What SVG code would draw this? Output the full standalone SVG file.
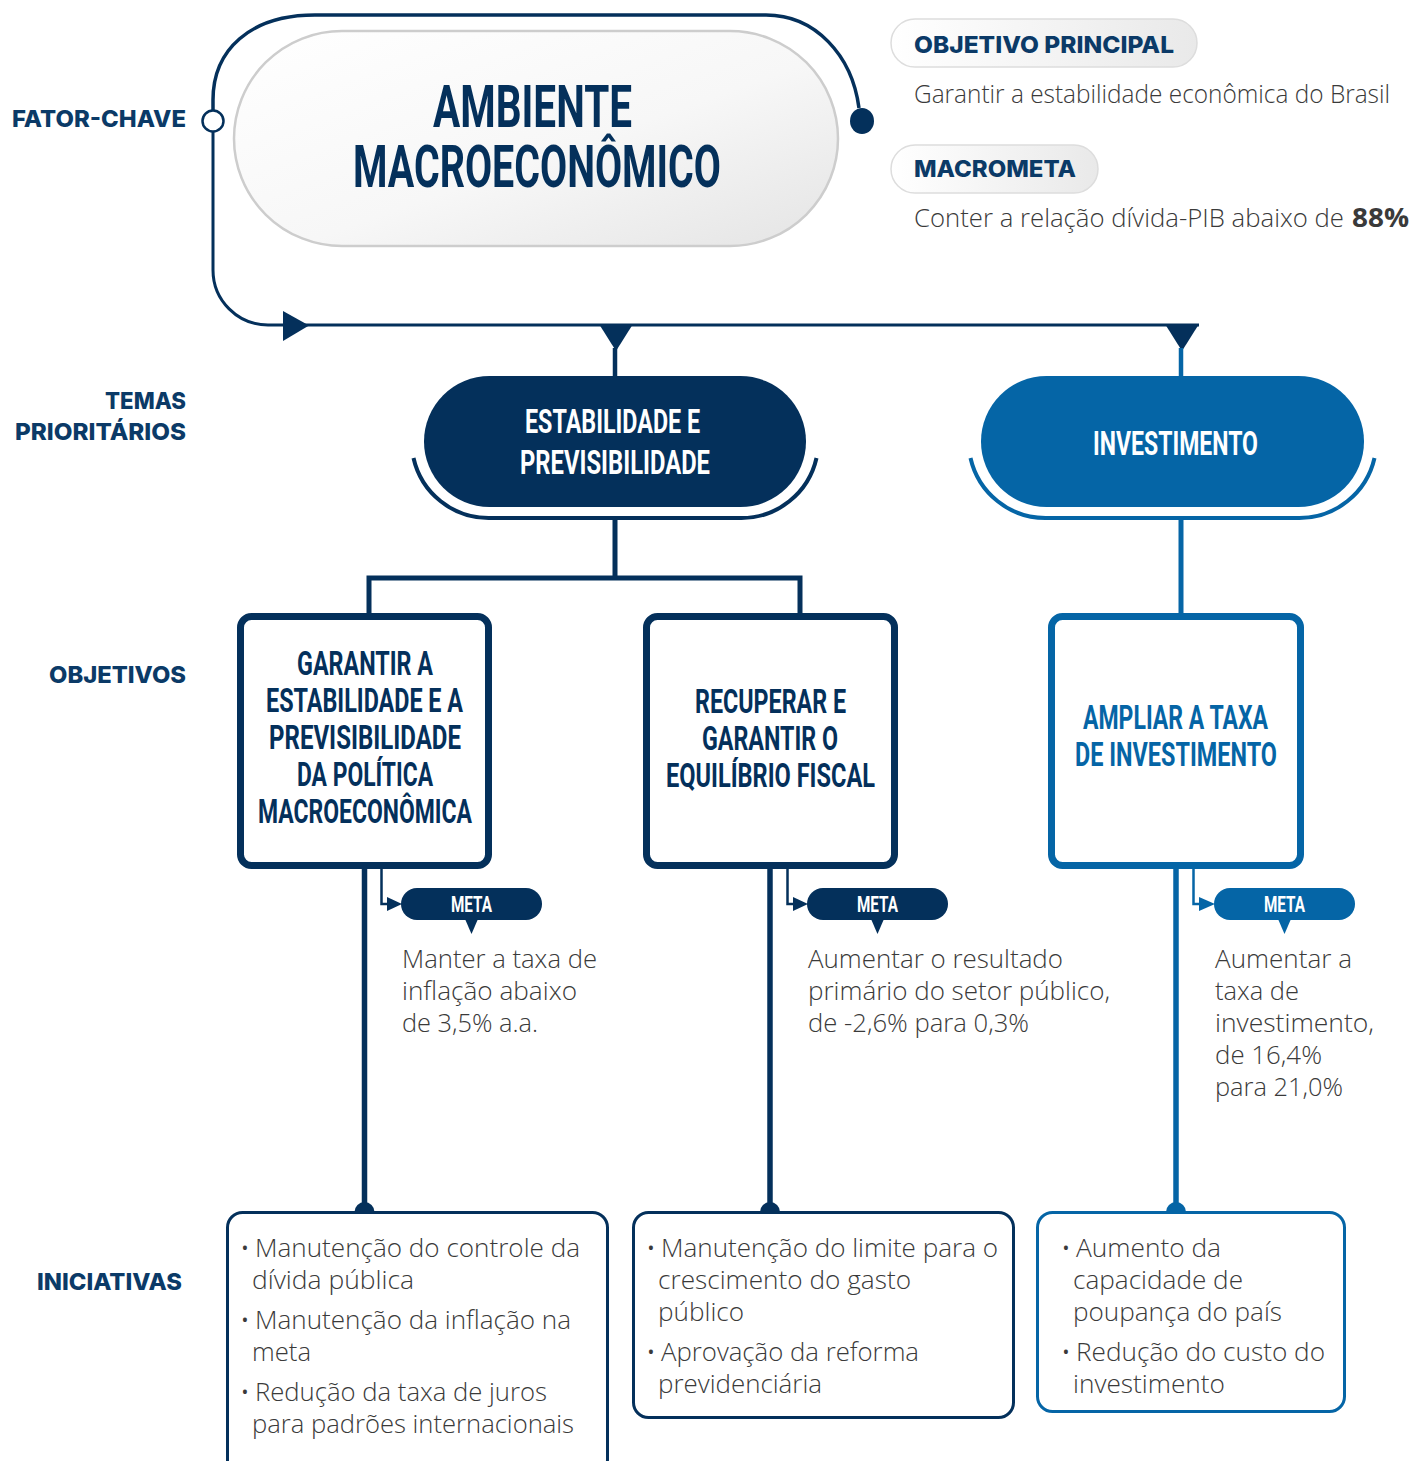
<svg xmlns="http://www.w3.org/2000/svg" width="1413" height="1461" viewBox="0 0 1413 1461">
<defs>
<linearGradient id="gPill" x1="0" y1="0" x2="1" y2="1">
<stop offset="0" stop-color="#ffffff"/>
<stop offset="0.55" stop-color="#f7f7f7"/>
<stop offset="1" stop-color="#e4e4e4"/>
</linearGradient>
<linearGradient id="gTag" x1="0" y1="0" x2="1" y2="0">
<stop offset="0" stop-color="#ffffff"/>
<stop offset="1" stop-color="#e9e9e9"/>
</linearGradient>
<style>
.cond{font-family:Roboto,"Liberation Sans",sans-serif;font-weight:700}
.lbl{font-family:Inter,"Noto Sans","Liberation Sans",sans-serif;font-weight:800;fill:#0B3A67;font-size:23.5px}
.body{font-family:"Open Sans","Noto Sans","Liberation Sans",sans-serif;font-weight:300;fill:#3a3a3a;font-size:26px}
.bold{font-weight:700}
.navyS{stroke:#04305B;fill:none}
.blueS{stroke:#0565A6;fill:none}
.navyF{fill:#04305B}
.blueF{fill:#0565A6}
.white{fill:#ffffff}
.meta{font-size:22px}
</style>
</defs>

<!-- side labels -->
<g id="labels">
<text class="lbl" x="12" y="127" textLength="174" lengthAdjust="spacingAndGlyphs">FATOR-CHAVE</text>
<text class="lbl" x="105" y="409" textLength="81" lengthAdjust="spacingAndGlyphs">TEMAS</text>
<text class="lbl" x="15" y="440" textLength="171" lengthAdjust="spacingAndGlyphs">PRIORITÁRIOS</text>
<text class="lbl" x="49" y="683" textLength="137" lengthAdjust="spacingAndGlyphs">OBJETIVOS</text>
<text class="lbl" x="37" y="1290" textLength="145" lengthAdjust="spacingAndGlyphs">INICIATIVAS</text>
</g>

<!-- connectors -->
<g id="connectors">
<path class="navyS" stroke-width="3.5" d="M213,110 V100 C213,50 250,15 315,15 H766 C815,15 852,55 859,108"/>
<path class="navyS" stroke-width="3" d="M213,132 V270 A55,55 0 0 0 268,325 H1199"/>
<polygon class="navyF" points="283,311 309,325.5 283,341"/>
<polygon class="navyF" points="599,324 633,324 616,351"/>
<polygon class="navyF" points="1165,324 1199,324 1182,351"/>
<line class="navyS" stroke-width="4.5" x1="615" y1="348" x2="615" y2="377"/>
<line class="blueS" stroke-width="4.5" x1="1181" y1="348" x2="1181" y2="377"/>
<!-- under arcs of theme pills -->
<path class="navyS" stroke-width="4" d="M413.5,458 A77,77 0 0 0 489,518 H741 A77,77 0 0 0 816.5,458"/>
<path class="blueS" stroke-width="4" d="M970.5,458 A77,77 0 0 0 1046,518 H1299 A77,77 0 0 0 1374.5,458"/>
<!-- theme to objectives -->
<path class="navyS" stroke-width="5" d="M615,518 V578 M369,615 V578 H800 V615"/>
<line class="blueS" stroke-width="5" x1="1181" y1="518" x2="1181" y2="615"/>
<!-- objectives to initiatives -->
<line class="navyS" stroke-width="5.5" x1="364.5" y1="868" x2="364.5" y2="1212"/>
<line class="navyS" stroke-width="5.5" x1="770" y1="868" x2="770" y2="1212"/>
<line class="blueS" stroke-width="5.5" x1="1176" y1="868" x2="1176" y2="1212"/>
<path class="navyF" d="M354.5,1212 A10,10 0 0 1 374.5,1212 Z"/>
<path class="navyF" d="M760,1212 A10,10 0 0 1 780,1212 Z"/>
<path class="blueF" d="M1166,1212 A10,10 0 0 1 1186,1212 Z"/>
<!-- meta connectors -->
<path class="navyS" stroke-width="2.5" d="M381.5,868 V904 H390"/>
<polygon class="navyF" points="387,897 402,904 387,911"/>
<path class="navyS" stroke-width="2.5" d="M787.5,868 V904 H796"/>
<polygon class="navyF" points="793,897 808,904 793,911"/>
<path class="blueS" stroke-width="2.5" d="M1193.5,868 V904 H1202"/>
<polygon class="blueF" points="1199,897 1215,904 1199,911"/>
</g>

<!-- key factor -->
<g id="fator-chave">
<circle cx="213" cy="121" r="10.5" fill="#ffffff" stroke="#04305B" stroke-width="2.5"/>
<ellipse cx="862" cy="121" rx="12" ry="13" class="navyF"/>
<rect x="234" y="31" width="604" height="215" rx="108" ry="108" fill="url(#gPill)" stroke="#cdcdcd" stroke-width="2.5"/>
<text class="cond navyF" x="433" y="127" font-size="60" textLength="199" lengthAdjust="spacingAndGlyphs">AMBIENTE</text>
<text class="cond navyF" x="353" y="187" font-size="60" textLength="368" lengthAdjust="spacingAndGlyphs">MACROECONÔMICO</text>
</g>

<g id="objetivo-principal">
<rect x="891" y="19" width="306" height="48" rx="24" fill="url(#gTag)" stroke="#dddddd" stroke-width="1.5"/>
<text class="lbl" x="914" y="53" font-size="24" textLength="260" lengthAdjust="spacingAndGlyphs">OBJETIVO PRINCIPAL</text>
<text class="body" x="914" y="103" textLength="476" lengthAdjust="spacingAndGlyphs">Garantir a estabilidade econômica do Brasil</text>
</g>

<g id="macrometa">
<rect x="891" y="145" width="207" height="48" rx="24" fill="url(#gTag)" stroke="#dddddd" stroke-width="1.5"/>
<text class="lbl" x="914" y="177" font-size="24" textLength="162" lengthAdjust="spacingAndGlyphs">MACROMETA</text>
<text class="body" x="914" y="227" textLength="430" lengthAdjust="spacingAndGlyphs">Conter a relação dívida-PIB abaixo de</text>
<text class="body bold" x="1352" y="227" textLength="57" lengthAdjust="spacingAndGlyphs">88%</text>
</g>

<!-- themes -->
<g id="tema-estabilidade">
<rect x="424" y="376" width="382" height="131" rx="65.5" class="navyF"/>
<text class="cond white" x="525" y="433" font-size="34" textLength="175" lengthAdjust="spacingAndGlyphs">ESTABILIDADE E</text>
<text class="cond white" x="520" y="474" font-size="34" textLength="190" lengthAdjust="spacingAndGlyphs">PREVISIBILIDADE</text>
</g>
<g id="tema-investimento">
<rect x="981" y="376" width="383" height="131" rx="65.5" class="blueF"/>
<text class="cond white" x="1093" y="455" font-size="34" textLength="165" lengthAdjust="spacingAndGlyphs">INVESTIMENTO</text>
</g>

<!-- objectives -->
<g id="obj-1">
<rect x="240.5" y="616.5" width="248" height="249" rx="11" fill="#ffffff" class="navyS" stroke-width="7"/>
<g class="cond navyF" font-size="33">
<text x="297" y="675" textLength="136" lengthAdjust="spacingAndGlyphs">GARANTIR A</text>
<text x="266" y="712" textLength="197" lengthAdjust="spacingAndGlyphs">ESTABILIDADE E A</text>
<text x="269" y="749" textLength="192" lengthAdjust="spacingAndGlyphs">PREVISIBILIDADE</text>
<text x="297" y="786" textLength="136" lengthAdjust="spacingAndGlyphs">DA POLÍTICA</text>
<text x="258" y="823" textLength="214" lengthAdjust="spacingAndGlyphs">MACROECONÔMICA</text>
</g>
</g>
<g id="obj-2">
<rect x="646.5" y="616.5" width="248" height="249" rx="11" fill="#ffffff" class="navyS" stroke-width="7"/>
<g class="cond navyF" font-size="33">
<text x="695" y="713" textLength="151" lengthAdjust="spacingAndGlyphs">RECUPERAR E</text>
<text x="702" y="750" textLength="136" lengthAdjust="spacingAndGlyphs">GARANTIR O</text>
<text x="666" y="787" textLength="209" lengthAdjust="spacingAndGlyphs">EQUILÍBRIO FISCAL</text>
</g>
</g>
<g id="obj-3">
<rect x="1051.5" y="616.5" width="249" height="249" rx="11" fill="#ffffff" class="blueS" stroke-width="7"/>
<g class="cond blueF" font-size="33">
<text x="1083" y="729" textLength="185" lengthAdjust="spacingAndGlyphs">AMPLIAR A TAXA</text>
<text x="1075" y="766" textLength="202" lengthAdjust="spacingAndGlyphs">DE INVESTIMENTO</text>
</g>
</g>

<!-- metas -->
<g id="meta-1">
<rect x="401" y="888" width="141" height="32" rx="16" class="navyF"/>
<polygon class="navyF" points="465,919 478,919 471.5,934"/>
<text class="cond white meta" x="451" y="912" textLength="41" lengthAdjust="spacingAndGlyphs">META</text>
<text class="body" x="402" y="968" textLength="195" lengthAdjust="spacingAndGlyphs">Manter a taxa de</text>
<text class="body" x="402" y="1000" textLength="175" lengthAdjust="spacingAndGlyphs">inflação abaixo</text>
<text class="body" x="402" y="1032" textLength="136" lengthAdjust="spacingAndGlyphs">de 3,5% a.a.</text>
</g>
<g id="meta-2">
<rect x="807" y="888" width="141" height="32" rx="16" class="navyF"/>
<polygon class="navyF" points="871,919 884,919 877.5,934"/>
<text class="cond white meta" x="857" y="912" textLength="41" lengthAdjust="spacingAndGlyphs">META</text>
<text class="body" x="808" y="968" textLength="255" lengthAdjust="spacingAndGlyphs">Aumentar o resultado</text>
<text class="body" x="808" y="1000" textLength="302" lengthAdjust="spacingAndGlyphs">primário do setor público,</text>
<text class="body" x="808" y="1032" textLength="221" lengthAdjust="spacingAndGlyphs">de -2,6% para 0,3%</text>
</g>
<g id="meta-3">
<rect x="1214" y="888" width="141" height="32" rx="16" class="blueF"/>
<polygon class="blueF" points="1278,919 1291,919 1284.5,934"/>
<text class="cond white meta" x="1264" y="912" textLength="41" lengthAdjust="spacingAndGlyphs">META</text>
<text class="body" x="1215" y="968" textLength="137" lengthAdjust="spacingAndGlyphs">Aumentar a</text>
<text class="body" x="1215" y="1000" textLength="84" lengthAdjust="spacingAndGlyphs">taxa de</text>
<text class="body" x="1215" y="1032" textLength="159" lengthAdjust="spacingAndGlyphs">investimento,</text>
<text class="body" x="1215" y="1064" textLength="107" lengthAdjust="spacingAndGlyphs">de 16,4%</text>
<text class="body" x="1215" y="1096" textLength="128" lengthAdjust="spacingAndGlyphs">para 21,0%</text>
</g>

<!-- initiatives -->
<g id="iniciativas-1">
<rect x="227.5" y="1212.5" width="380" height="262" rx="15" fill="#ffffff" class="navyS" stroke-width="3"/>
<text class="body" x="240" y="1257">•</text>
<text class="body" x="255" y="1257" textLength="325" lengthAdjust="spacingAndGlyphs">Manutenção do controle da</text>
<text class="body" x="252" y="1289" textLength="162" lengthAdjust="spacingAndGlyphs">dívida pública</text>
<text class="body" x="240" y="1329">•</text>
<text class="body" x="255" y="1329" textLength="316" lengthAdjust="spacingAndGlyphs">Manutenção da inflação na</text>
<text class="body" x="252" y="1361" textLength="59" lengthAdjust="spacingAndGlyphs">meta</text>
<text class="body" x="240" y="1401">•</text>
<text class="body" x="255" y="1401" textLength="292" lengthAdjust="spacingAndGlyphs">Redução da taxa de juros</text>
<text class="body" x="252" y="1433" textLength="322" lengthAdjust="spacingAndGlyphs">para padrões internacionais</text>
</g>
<g id="iniciativas-2">
<rect x="633.5" y="1212.5" width="380" height="205" rx="15" fill="#ffffff" class="navyS" stroke-width="3"/>
<text class="body" x="646" y="1257">•</text>
<text class="body" x="661" y="1257" textLength="337" lengthAdjust="spacingAndGlyphs">Manutenção do limite para o</text>
<text class="body" x="658" y="1289" textLength="253" lengthAdjust="spacingAndGlyphs">crescimento do gasto</text>
<text class="body" x="658" y="1321" textLength="86" lengthAdjust="spacingAndGlyphs">público</text>
<text class="body" x="646" y="1361">•</text>
<text class="body" x="661" y="1361" textLength="258" lengthAdjust="spacingAndGlyphs">Aprovação da reforma</text>
<text class="body" x="658" y="1393" textLength="164" lengthAdjust="spacingAndGlyphs">previdenciária</text>
</g>
<g id="iniciativas-3">
<rect x="1037.5" y="1212.5" width="307" height="199" rx="15" fill="#ffffff" class="blueS" stroke-width="3"/>
<text class="body" x="1061" y="1257">•</text>
<text class="body" x="1076" y="1257" textLength="145" lengthAdjust="spacingAndGlyphs">Aumento da</text>
<text class="body" x="1073" y="1289" textLength="170" lengthAdjust="spacingAndGlyphs">capacidade de</text>
<text class="body" x="1073" y="1321" textLength="209" lengthAdjust="spacingAndGlyphs">poupança do país</text>
<text class="body" x="1061" y="1361">•</text>
<text class="body" x="1076" y="1361" textLength="249" lengthAdjust="spacingAndGlyphs">Redução do custo do</text>
<text class="body" x="1073" y="1393" textLength="152" lengthAdjust="spacingAndGlyphs">investimento</text>
</g>
</svg>
